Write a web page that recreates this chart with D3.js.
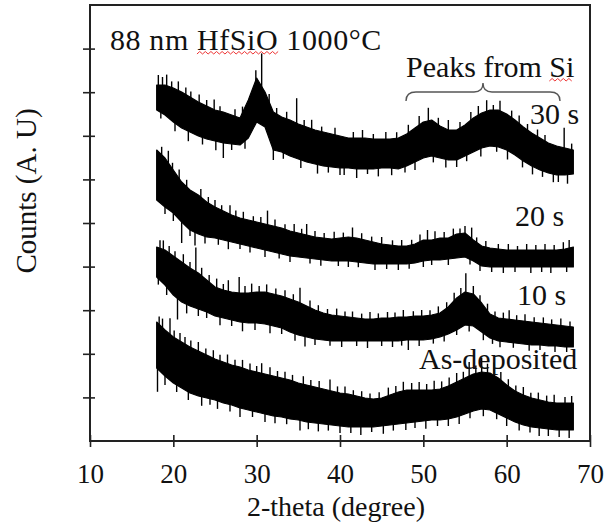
<html>
<head>
<meta charset="utf-8">
<style>
  body { margin: 0; background: #fff; }
  text { font-family: "Liberation Serif", "Times New Roman", serif; fill: #111; }
</style>
</head>
<body>
<svg id="chart" width="607" height="522"></svg>

<script src="https://cdn.jsdelivr.net/npm/d3@7/dist/d3.min.js"></script>
<script>
const theta = d3.range(18, 69);

// counts (a.u.), upper / lower edge of each noisy trace
const top30 = [356,356,353,349,344,339,335,331,329,326,323,341,363,349,329,324,321,317,314,311,309,307,305,303,303,303,302,302,302,303,307,313,319,321,315,311,311,316,323,328,331,331,327,321,314,308,303,298,295,293,291];
const bot30 = [331,326,319,313,309,305,302,300,298,297,296,303,319,314,291,289,285,282,279,277,275,274,273,273,272,272,272,273,273,272,275,279,283,285,283,281,281,285,289,293,295,294,291,286,280,275,271,268,266,266,267];

const top20 = [291,283,271,259,251,246,239,234,230,226,223,221,219,217,215,213,210,208,206,204,203,202,203,204,203,201,199,197,196,195,195,197,201,201,203,203,207,208,201,195,193,192,191,191,191,191,191,191,191,192,194];
const bot20 = [241,234,228,219,211,207,204,203,201,199,197,195,193,191,189,187,185,184,183,182,181,180,180,180,179,178,177,177,177,177,177,178,180,181,181,182,183,184,180,175,174,174,174,174,174,174,174,174,174,174,174];

const top10 = [194,191,185,179,173,168,161,154,151,149,148,148,149,149,147,145,142,139,135,131,128,126,125,124,123,122,122,123,123,124,124,125,125,126,128,134,143,149,147,138,127,123,122,121,120,119,118,117,116,115,114];
const bot10 = [164,156,146,139,135,132,129,125,123,121,119,118,118,117,115,113,109,106,104,102,101,100,100,100,100,100,100,100,100,100,101,101,101,102,104,107,111,116,115,109,103,100,99,98,97,96,96,95,95,94,94];

const topAs = [119,111,104,99,94,90,86,82,79,76,74,71,69,67,65,63,61,58,56,54,52,50,48,47,45,43,42,43,46,49,51,51,51,51,52,55,59,63,67,69,68,63,56,50,46,43,41,39,38,38,38];
const botAs = [73,65,58,53,48,45,43,41,38,36,33,31,29,27,25,24,22,21,19,18,17,16,15,14,14,14,14,15,16,17,18,19,20,21,21,22,24,27,30,32,31,27,23,19,16,14,13,12,11,11,11];

// noise spikes: [2-theta, counts beyond the band edge] (+ above the top edge, - below the bottom edge)
const spikes30 = [[18.2,10],[18.5,-6],[18.7,8],[19.2,11],[19.8,6],[20.2,-8],[20.6,9],[21.5,7],[21.8,-10],[22.1,6],[23.1,8],[23.5,-7],[24.0,6],[24.9,10],[25.1,-9],[25.6,5],[26.0,-15],[27.0,-6],[27.4,7],[28.3,6],[28.6,-8],[29.9,10],[30.6,33],[31.5,8],[32.0,-10],[32.4,6],[33.2,-6],[33.6,7],[34.8,25],[35.3,-8],[35.7,6],[36.6,9],[37.3,-9],[37.8,5],[38.6,-6],[39.4,7],[40.0,-7],[40.5,-7],[41.6,6],[42.0,-9],[42.7,8],[43.3,-5],[44.0,5],[44.6,-8],[45.5,7],[46.2,-7],[46.8,6],[47.8,-6],[48.2,8],[49.0,-8],[49.5,9],[50.6,13],[51.2,-6],[51.8,7],[52.7,-8],[53.0,10],[54.0,-7],[54.4,6],[55.2,-6],[55.7,8],[56.6,9],[56.9,-8],[57.6,11],[58.4,5],[58.8,-5],[59.2,10],[60.1,-9],[60.6,7],[61.5,8],[61.9,-7],[62.5,6],[63.1,-8],[63.7,7],[64.3,-6],[64.6,6],[65.6,-8],[66.2,-7],[66.9,20],[67.3,-9],[67.8,6]];
const spikes20 = [[18.6,8],[19.0,-7],[19.4,12],[19.9,6],[20.0,-8],[20.7,9],[21.0,-21],[21.6,7],[22.0,-6],[22.6,-13],[23.3,8],[23.8,-7],[24.2,6],[25.0,7],[25.4,-6],[25.8,5],[26.6,-8],[26.8,9],[27.5,6],[28.0,-5],[28.4,7],[29.2,-6],[29.6,5],[30.5,6],[31.0,-7],[31.3,14],[32.2,7],[32.7,-5],[33.4,5],[34.0,-6],[34.5,8],[35.4,5],[36.0,11],[36.4,-5],[37.0,6],[37.7,-6],[38.1,5],[39.3,7],[39.8,-5],[40.4,5],[41.0,-6],[41.5,10],[42.2,-5],[42.6,6],[43.8,5],[44.2,-6],[45.0,7],[45.6,-5],[46.3,5],[47.0,-6],[47.4,6],[48.3,-5],[48.6,5],[49.6,7],[50.0,-6],[50.5,10],[51.0,-5],[51.4,8],[52.5,6],[53.0,-6],[53.6,7],[54.4,5],[55.0,7],[55.6,-5],[55.8,11],[56.4,5],[56.8,-6],[57.5,6],[58.2,-5],[59.0,5],[59.6,-6],[60.2,6],[61.0,-5],[61.3,4],[62.4,6],[62.9,-6],[63.5,5],[64.2,-5],[64.6,6],[65.3,-6],[65.7,5],[66.8,7],[67.2,-5],[67.5,8]];
const spikes10 = [[18.2,-6],[18.4,8],[18.8,9],[19.2,-8],[19.5,7],[20.2,6],[20.5,-21],[21.2,9],[21.6,-9],[22.0,6],[22.7,24],[23.0,-7],[23.4,8],[24.0,-6],[24.3,7],[25.2,9],[25.6,-8],[26.0,6],[26.6,11],[27.0,-6],[27.9,16],[28.3,-9],[28.6,7],[29.4,9],[29.8,-7],[30.3,6],[31.2,8],[31.6,-8],[32.3,6],[33.0,-6],[33.4,7],[34.4,6],[34.6,-7],[35.2,15],[35.8,-10],[36.4,7],[37.0,-6],[37.4,6],[38.5,5],[38.8,-5],[39.6,7],[40.2,-6],[40.6,5],[41.5,6],[42.0,-5],[42.6,5],[43.3,-7],[43.6,7],[44.6,5],[45.0,-5],[45.7,6],[46.3,-6],[46.6,5],[47.4,-5],[47.6,7],[48.2,-10],[48.8,5],[49.5,-6],[49.8,6],[50.8,5],[51.2,-5],[51.8,7],[52.5,-6],[52.8,6],[53.7,8],[54.0,-5],[54.5,7],[55.1,19],[55.5,-6],[56.0,8],[56.8,6],[57.2,-7],[57.7,7],[58.3,-5],[58.6,5],[59.2,-6],[59.6,6],[60.3,9],[60.8,-5],[61.2,5],[62.2,7],[62.7,-6],[63.3,5],[64.0,-5],[64.4,6],[65.4,5],[65.8,-6],[66.5,7],[67.2,-5],[67.6,5]];
const spikesAs = [[18.1,-23],[18.3,8],[18.7,9],[19.0,-9],[19.6,16],[20.1,7],[20.4,-7],[20.8,8],[21.4,7],[21.8,-8],[22.1,7],[23.0,9],[23.4,-9],[23.9,6],[24.4,-6],[24.8,8],[25.3,-8],[25.6,6],[26.5,9],[26.8,-7],[27.4,6],[28.0,-9],[28.3,8],[29.2,7],[29.5,-6],[30.0,6],[30.6,10],[31.0,-8],[31.6,8],[32.2,-7],[32.5,6],[33.4,7],[33.6,-6],[34.3,6],[35.2,-10],[35.6,8],[36.2,-7],[36.5,6],[37.4,-8],[37.5,7],[38.6,-6],[38.8,11],[39.7,6],[40.0,-7],[40.6,7],[41.3,-6],[41.6,5],[42.5,-8],[42.6,6],[43.6,5],[43.8,-5],[44.7,6],[45.2,-8],[45.8,8],[46.4,-6],[46.7,7],[47.6,9],[47.9,-7],[48.6,7],[49.0,-6],[49.5,8],[50.3,-8],[50.4,6],[51.3,9],[51.7,-6],[52.2,7],[53.0,-7],[53.1,8],[54.0,9],[54.3,-8],[54.8,7],[55.5,14],[55.6,-6],[56.3,8],[57.0,14],[57.2,-7],[57.7,9],[58.5,13],[58.8,-6],[59.3,8],[60.0,-8],[60.2,7],[61.1,6],[61.5,-7],[62.0,8],[62.8,-6],[62.9,5],[63.8,7],[63.9,-8],[64.8,6],[65.0,-7],[65.7,8],[66.3,-7],[67.0,6],[67.5,-8],[67.8,7]];

const seriesNames = ["30 s", "20 s", "10 s", "As-deposited"];
const xTicks = [10, 20, 30, 40, 50, 60, 70];
const yTicks = d3.range(1, 10).map(k => k * 43.6);

const svg = d3.select("#chart");
const left = 90, right = 590, topY = 5, bottom = 441;

const x = d3.scaleLinear().domain([10, 70]).range([left, right]);
const y = d3.scaleLinear().domain([0, 436]).range([bottom, topY]);

const series = [
  {name: seriesNames[0], hi: top30, lo: bot30, spikes: spikes30},
  {name: seriesNames[1], hi: top20, lo: bot20, spikes: spikes20},
  {name: seriesNames[2], hi: top10, lo: bot10, spikes: spikes10},
  {name: seriesNames[3], hi: topAs, lo: botAs, spikes: spikesAs}
];

// traces
const area = d3.area()
  .x(d => x(d.t))
  .y0(d => y(d.lo))
  .y1(d => y(d.hi));

const traces = svg.append("g").attr("id", "traces");
series.forEach(s => {
  const pts = theta.map((t, i) => ({t: t, hi: s.hi[i], lo: s.lo[i]}));
  traces.append("path")
    .datum(pts)
    .attr("d", area)
    .attr("fill", "#000")
    .attr("stroke", "#000")
    .attr("stroke-width", 1.2)
    .attr("stroke-linejoin", "round");

  // band edge at an arbitrary 2-theta, for hanging the spikes on
  const at = (arr, t) => {
    const i = Math.min(Math.floor(t - 18), theta.length - 2);
    const f = t - theta[i];
    return arr[i] * (1 - f) + arr[i + 1] * f;
  };
  traces.selectAll(null)
    .data(s.spikes)
    .enter()
    .append("line")
    .attr("x1", d => x(d[0]))
    .attr("x2", d => x(d[0]))
    .attr("y1", d => y((at(s.hi, d[0]) + at(s.lo, d[0])) / 2))
    .attr("y2", d => y(d[1] > 0 ? at(s.hi, d[0]) + d[1] : at(s.lo, d[0]) + d[1]))
    .attr("stroke", "#000")
    .attr("stroke-width", 1.4);
});

// axes
const xAxis = svg.append("g")
  .attr("transform", `translate(0,${bottom})`)
  .call(d3.axisBottom(x).tickValues(xTicks).tickSize(5).tickFormat(d3.format("d")));
xAxis.select(".domain").remove();
xAxis.selectAll(".tick line").attr("y1", -6).attr("y2", 6).attr("stroke", "#222").attr("stroke-width", 1.6);
xAxis.selectAll(".tick text")
  .attr("y", 42).attr("dy", 0)
  .style("font-family", '"Liberation Serif", "Times New Roman", serif')
  .style("font-size", "27px").attr("fill", "#111");

const yAxis = svg.append("g")
  .attr("transform", `translate(${left},0)`)
  .call(d3.axisLeft(y).tickValues(yTicks).tickSize(7).tickFormat(""));
yAxis.select(".domain").remove();
yAxis.selectAll(".tick line").attr("x1", -7).attr("x2", 5).attr("stroke", "#222").attr("stroke-width", 1.6);

// frame
svg.append("rect")
  .attr("x", left).attr("y", topY)
  .attr("width", right - left).attr("height", bottom - topY)
  .attr("fill", "none").attr("stroke", "#222").attr("stroke-width", 2);

// axis titles
svg.append("text")
  .attr("x", 336).attr("y", 516)
  .attr("text-anchor", "middle")
  .style("font-size", "28px")
  .text("2-theta (degree)");

svg.append("text")
  .attr("transform", "translate(36,191) rotate(-90)")
  .attr("text-anchor", "middle")
  .style("font-size", "29px")
  .text("Counts (A. U)");

// annotations
function squiggle(x0, x1, yb) {
  let p = `M${x0},${yb}`, up = true;
  for (let xx = x0 + 2.8; xx <= x1; xx += 2.8) {
    p += ` L${xx},${up ? yb - 2.5 : yb}`;
    up = !up;
  }
  svg.append("path").attr("d", p).attr("fill", "none")
    .attr("stroke", "#e33").attr("stroke-width", 1);
}

const title = svg.append("text")
  .attr("x", 110).attr("y", 50)
  .style("font-size", "30px")
  .style("letter-spacing", "0.6px")
  .text("88 nm HfSiO 1000°C");
{
  const n = title.node();
  const a = n.getSubStringLength(0, 6), b = n.getSubStringLength(6, 5);
  squiggle(110 + a, 110 + a + b, 54);
}

const peaks = svg.append("text")
  .attr("x", 406).attr("y", 77)
  .style("font-size", "30px")
  .text("Peaks from Si");
{
  const n = peaks.node();
  const a = n.getSubStringLength(0, 11), b = n.getSubStringLength(11, 2);
  squiggle(406 + a, 406 + a + b, 81);
}

svg.append("path")
  .attr("d", "M406,101 Q406,92 416,92 L474,92 Q483,92 483,83 Q483,92 492,92 L550,92 Q560,92 560,101")
  .attr("fill", "none").attr("stroke", "#555").attr("stroke-width", 1.4);

const labelPos = [[530, 124], [515, 226], [517, 305], [419, 369]];
seriesNames.forEach((name, i) => {
  svg.append("text")
    .attr("x", labelPos[i][0]).attr("y", labelPos[i][1])
    .style("font-size", "30px")
    .text(name);
});
</script>
</body>
</html>
